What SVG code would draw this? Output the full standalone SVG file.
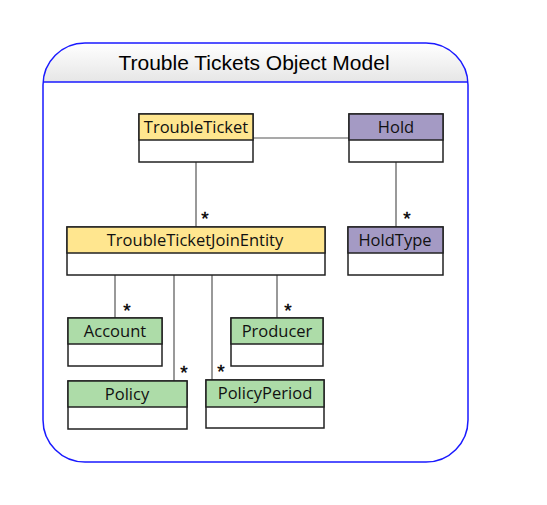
<svg xmlns="http://www.w3.org/2000/svg" width="547" height="505" viewBox="0 0 547 505">
<style>
.box{fill:#fff;stroke:#222;stroke-width:1.5}
.hdr{stroke:#222;stroke-width:1.5}
.y{fill:#FFE68F}.p{fill:#A49AC4}.g{fill:#ADDCA8}
.lbl{font-family:"Open Sans","Liberation Sans",sans-serif;font-size:16.5px;fill:#111;text-anchor:middle}
.conn line{stroke:#555;stroke-width:1.2}
.st{font-family:"Liberation Sans",sans-serif;font-size:19px;fill:#000;text-anchor:middle;stroke:#000;stroke-width:0.4}
</style>
<defs>
<linearGradient id="hg" x1="0" y1="0" x2="0" y2="1">
<stop offset="0" stop-color="#ffffff"/><stop offset="1" stop-color="#e6e6e6"/>
</linearGradient>
<clipPath id="fc"><rect x="43" y="43" width="425" height="419" rx="42"/></clipPath>
</defs>
<g id="frame">
<rect x="43" y="43" width="425" height="419" rx="42" fill="#fff"/>
<rect x="43" y="43" width="425" height="39" fill="url(#hg)" clip-path="url(#fc)"/>
<rect x="43" y="43" width="425" height="419" rx="42" fill="none" stroke="#1a1aff" stroke-width="1.5"/>
<line x1="43" y1="82" x2="468" y2="82" stroke="#1a1aff" stroke-width="1.5"/>
<text x="254" y="70" font-family="Liberation Sans,sans-serif" font-size="21" text-anchor="middle" fill="#000">Trouble Tickets Object Model</text>
</g>
<g class="conn" id="connectors">
<line x1="253" y1="138" x2="349" y2="138"/>
<line x1="196" y1="162" x2="196" y2="227"/>
<line x1="396" y1="162" x2="396" y2="227"/>
<line x1="115" y1="275" x2="115" y2="318"/>
<line x1="174" y1="275" x2="174" y2="381"/>
<line x1="212" y1="275" x2="212" y2="380"/>
<line x1="277" y1="275" x2="277" y2="318"/>
<text class="st" x="205" y="225">*</text>
<text class="st" x="407" y="225">*</text>
<text class="st" x="127" y="317">*</text>
<text class="st" x="288" y="317">*</text>
<text class="st" x="184" y="379">*</text>
<text class="st" x="221" y="378">*</text>
</g>
<g id="TroubleTicket">
<rect class="box" x="139" y="114" width="114" height="48"/>
<rect class="hdr y" x="139" y="114" width="114" height="26"/>
<text class="lbl" x="196" y="133">TroubleTicket</text>
</g>
<g id="Hold">
<rect class="box" x="349" y="114" width="94" height="48"/>
<rect class="hdr p" x="349" y="114" width="94" height="26"/>
<text class="lbl" x="396" y="133">Hold</text>
</g>
<g id="TroubleTicketJoinEntity">
<rect class="box" x="67" y="227" width="258" height="48"/>
<rect class="hdr y" x="67" y="227" width="258" height="26"/>
<text class="lbl" x="195" y="246">TroubleTicketJoinEntity</text>
</g>
<g id="HoldType">
<rect class="box" x="348" y="227" width="95" height="48"/>
<rect class="hdr p" x="348" y="227" width="95" height="26"/>
<text class="lbl" x="395" y="246">HoldType</text>
</g>
<g id="Account">
<rect class="box" x="68" y="318" width="94" height="48"/>
<rect class="hdr g" x="68" y="318" width="94" height="26"/>
<text class="lbl" x="115" y="337">Account</text>
</g>
<g id="Producer">
<rect class="box" x="231" y="318" width="92" height="48"/>
<rect class="hdr g" x="231" y="318" width="92" height="26"/>
<text class="lbl" x="277" y="337">Producer</text>
</g>
<g id="Policy">
<rect class="box" x="68" y="381" width="119" height="48"/>
<rect class="hdr g" x="68" y="381" width="119" height="26"/>
<text class="lbl" x="127" y="400">Policy</text>
</g>
<g id="PolicyPeriod">
<rect class="box" x="206" y="380" width="118" height="48"/>
<rect class="hdr g" x="206" y="380" width="118" height="27"/>
<text class="lbl" x="265" y="399">PolicyPeriod</text>
</g>
</svg>
